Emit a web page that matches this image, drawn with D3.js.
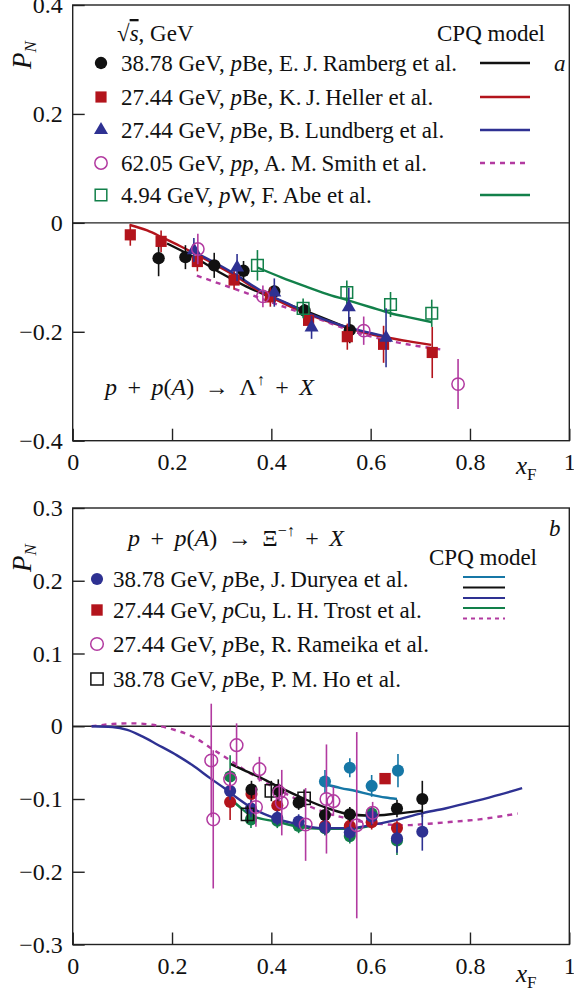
<!DOCTYPE html>
<html>
<head>
<meta charset="utf-8">
<script src="https://cdn.jsdelivr.net/npm/d3@7"></script>
<style>
  body { margin: 0; background: #fff; }
  svg { display: block; }
  text { font-family: "Liberation Serif", "DejaVu Serif", serif; fill: #111; }
</style>
</head>
<body>
<svg id="chart"></svg>
<script>
const W = 574, H = 993;

// ---- panel a : Lambda polarization, [xF, PN, error]
const lamRamberg = [[0.173,-0.065,0.033],[0.227,-0.063,0.022],[0.285,-0.078,0.023],[0.344,-0.088,0.018],[0.406,-0.126,0.012],[0.467,-0.161,0.012],[0.558,-0.197,0.024]];
const lamHeller = [[0.116,-0.022,0.02],[0.178,-0.034,0.02],[0.251,-0.071,0.018],[0.325,-0.105,0.018],[0.398,-0.136,0.018],[0.475,-0.179,0.014],[0.553,-0.209,0.024],[0.626,-0.223,0.034],[0.724,-0.238,0.047]];
const lamLundberg = [[0.244,-0.050,0.022],[0.331,-0.082,0.025],[0.406,-0.128,0.026],[0.481,-0.192,0.021],[0.556,-0.155,0.036],[0.631,-0.211,0.054]];
const lamSmith = [[0.252,-0.048,0.028],[0.383,-0.135,0.02],[0.586,-0.198,0.026],[0.776,-0.296,0.046]];
const lamAbe = [[0.372,-0.078,0.028],[0.464,-0.157,0.018],[0.552,-0.128,0.022],[0.640,-0.150,0.023],[0.723,-0.166,0.025]];

// CPQ model curves, panel a
const lamCurveRamberg = [[0.19,-0.038],[0.25,-0.066],[0.30,-0.093],[0.35,-0.117],[0.40,-0.137],[0.45,-0.155],[0.50,-0.173],[0.56,-0.195]];
const lamCurveHeller = [[0.115,-0.004],[0.15,-0.014],[0.183,-0.028],[0.215,-0.042],[0.251,-0.059],[0.29,-0.078],[0.325,-0.096],[0.379,-0.127],[0.43,-0.150],[0.48,-0.170],[0.53,-0.186],[0.58,-0.200],[0.63,-0.210],[0.68,-0.218],[0.722,-0.224]];
const lamCurveLundberg = [[0.241,-0.052],[0.28,-0.070],[0.325,-0.093],[0.38,-0.125],[0.43,-0.147],[0.48,-0.168],[0.53,-0.185],[0.58,-0.198],[0.633,-0.209]];
const lamCurveSmith = [[0.25,-0.097],[0.30,-0.113],[0.35,-0.129],[0.40,-0.146],[0.45,-0.162],[0.50,-0.178],[0.56,-0.198],[0.62,-0.213],[0.68,-0.224],[0.745,-0.233]];
const lamCurveAbe = [[0.372,-0.082],[0.42,-0.100],[0.47,-0.117],[0.52,-0.133],[0.55,-0.141],[0.60,-0.155],[0.64,-0.166],[0.68,-0.174],[0.722,-0.182]];

const lamLegend = [
  "38.78 GeV, *p*Be, E.\u2009J.\u2009Ramberg et al.",
  "27.44 GeV, *p*Be, K.\u2009J.\u2009Heller et al.",
  "27.44 GeV, *p*Be, B.\u2009Lundberg et al.",
  "62.05 GeV, *pp*, A.\u2009M.\u2009Smith et al.",
  "4.94 GeV, *p*W, F.\u2009Abe et al."
];

// ---- panel b : Xi- polarization
const xiDuryea = [[0.317,-0.089,0.012],[0.359,-0.113,0.012],[0.412,-0.126,0.01],[0.455,-0.131,0.01],[0.508,-0.139,0.01],[0.558,-0.146,0.012],[0.602,-0.124,0.012],[0.653,-0.154,0.02],[0.704,-0.145,0.026]];
const xiTrost = [[0.629,-0.072,0]];
const xiRameika = [[0.279,-0.047,0.078],[0.283,-0.128,0.095],[0.317,-0.073,0.015],[0.330,-0.026,0.03],[0.369,-0.111,0.027],[0.376,-0.059,0.017],[0.416,-0.091,0.012],[0.421,-0.105,0.045],[0.469,-0.135,0.05],[0.511,-0.100,0.075],[0.525,-0.103,0.02],[0.572,-0.136,0.128],[0.604,-0.119,0.015]];
const xiHo = [[0.352,-0.121,0.012],[0.400,-0.089,0.014],[0.466,-0.099,0.012]];
const xiBlack = [[0.360,-0.087,0.012],[0.414,-0.088,0.015],[0.455,-0.105,0.01],[0.508,-0.122,0.01],[0.558,-0.121,0.01],[0.653,-0.113,0.012],[0.704,-0.100,0.025]];
const xiTeal = [[0.508,-0.076,0.016],[0.558,-0.057,0.013],[0.602,-0.082,0.015],[0.655,-0.061,0.023]];
const xiGreen = [[0.317,-0.069,0.029],[0.359,-0.128,0.012],[0.412,-0.130,0.01],[0.455,-0.137,0.01],[0.508,-0.140,0.01],[0.558,-0.151,0.01],[0.602,-0.120,0.01],[0.653,-0.157,0.02]];
const xiRed = [[0.317,-0.104,0.025],[0.360,-0.093,0.012],[0.412,-0.109,0.01],[0.508,-0.137,0.01],[0.558,-0.137,0.01],[0.602,-0.132,0.01],[0.653,-0.140,0.01]];

const xiCurveTeal = [[0.505,-0.079],[0.54,-0.085],[0.57,-0.089],[0.60,-0.094],[0.63,-0.098],[0.653,-0.100]];
const xiCurveBlack = [[0.318,-0.052],[0.35,-0.062],[0.373,-0.069],[0.414,-0.083],[0.467,-0.100],[0.51,-0.112],[0.55,-0.120],[0.60,-0.123],[0.653,-0.120],[0.704,-0.116]];
const xiCurveNavy = [[0.038,0],[0.08,-0.001],[0.11,-0.005],[0.14,-0.014],[0.17,-0.025],[0.21,-0.040],[0.24,-0.053],[0.278,-0.072],[0.305,-0.085],[0.33,-0.098],[0.36,-0.112],[0.41,-0.127],[0.455,-0.135],[0.50,-0.140],[0.56,-0.140],[0.60,-0.136],[0.65,-0.129],[0.70,-0.120],[0.75,-0.113],[0.81,-0.103],[0.86,-0.094],[0.905,-0.085]];
const xiCurveGreen = [[0.318,-0.100],[0.34,-0.113],[0.36,-0.123],[0.41,-0.131],[0.455,-0.138],[0.50,-0.141],[0.56,-0.141],[0.60,-0.137]];
const xiCurveDashed = [[0.038,0],[0.08,0.003],[0.12,0.004],[0.16,0.002],[0.20,-0.004],[0.244,-0.015],[0.285,-0.033],[0.32,-0.048],[0.346,-0.060],[0.38,-0.074],[0.413,-0.087],[0.45,-0.100],[0.48,-0.111],[0.52,-0.121],[0.548,-0.126],[0.58,-0.131],[0.616,-0.134],[0.67,-0.136],[0.717,-0.134],[0.77,-0.131],[0.819,-0.128],[0.86,-0.124],[0.896,-0.120]];

const xiLegend = [
  "38.78 GeV, *p*Be, J.\u2009Duryea et al.",
  "27.44 GeV, *p*Cu, L.\u2009H.\u2009Trost et al.",
  "27.44 GeV, *p*Be, R.\u2009Rameika et al.",
  "38.78 GeV, *p*Be, P.\u2009M.\u2009Ho et al."
];

const xTicks = [0, 0.2, 0.4, 0.6, 0.8, 1];
const yTicksA = [-0.4, -0.2, 0, 0.2, 0.4];
const yTicksB = [-0.3, -0.2, -0.1, 0, 0.1, 0.2, 0.3];

const C = {
  black: "#111111", red: "#b3141c", navy: "#2e3192", magenta: "#b23aa0",
  green: "#12804a", teal: "#1677a6"
};

const svg = d3.select("#chart").attr("width", W).attr("height", H);

const x = d3.scaleLinear([0, 1], [72.7, 569.3]);
const ya = d3.scaleLinear([-0.4, 0.4], [440.7, 5]);
const yb = d3.scaleLinear([-0.3, 0.3], [944.5, 508]);

const fmt = d => d === 0 ? "0" : d3.format("")(d).replace("-", "\u2212");

function rich(sel, str) {
  str.split("*").forEach((s, i) => {
    sel.append("tspan").attr("font-style", i % 2 ? "italic" : null).text(s);
  });
}

function frame(y, ticksY, xfY) {
  const g = svg.append("g");
  g.append("g")
      .attr("transform", `translate(0,${y.range()[0]})`)
      .call(d3.axisBottom(x).tickValues(xTicks).tickSize(-12).tickPadding(12).tickFormat(fmt))
      .call(a => a.select(".domain").remove())
      .call(a => a.selectAll("text").attr("font-size", 24).attr("font-family", null));
  g.append("g")
      .attr("transform", `translate(${x(0)},0)`)
      .call(d3.axisLeft(y).tickValues(ticksY).tickSize(-12).tickPadding(10).tickFormat(fmt))
      .call(a => a.select(".domain").remove())
      .call(a => a.selectAll("text").attr("font-size", 24).attr("font-family", null));
  g.selectAll(".tick line").attr("stroke", "#222").attr("stroke-width", 1.4);

  g.append("rect")
      .attr("x", x(0)).attr("y", y.range()[1])
      .attr("width", x(1) - x(0)).attr("height", y.range()[0] - y.range()[1])
      .attr("fill", "none").attr("stroke", "#222").attr("stroke-width", 1.4);
  g.append("line")
      .attr("x1", x(0)).attr("x2", x(1)).attr("y1", y(0)).attr("y2", y(0))
      .attr("stroke", "#222").attr("stroke-width", 1.4);

  // axis titles
  const pn = g.append("text")
      .attr("transform", `translate(31,${(y.range()[1] + 50)}) rotate(-90)`)
      .attr("text-anchor", "middle").attr("font-size", 27);
  pn.append("tspan").attr("font-style", "italic").text("P");
  pn.append("tspan").attr("font-style", "italic").attr("font-size", 17).attr("dy", 5).text("N");

  const xf = g.append("text").attr("x", 516).attr("y", xfY).attr("font-size", 25);
  xf.append("tspan").attr("font-style", "italic").text("x");
  xf.append("tspan").attr("font-size", 17).attr("dy", 6).text("F");
  return g;
}

const line = y => d3.line().x(d => x(d[0])).y(d => y(d[1])).curve(d3.curveMonotoneX);

function curve(y, data, color, dashed) {
  svg.append("path").datum(data)
      .attr("d", line(y))
      .attr("fill", "none").attr("stroke", color).attr("stroke-width", 2.4)
      .attr("stroke-dasharray", dashed ? "5,5" : null);
}

function sym(type, size) { return d3.symbol().type(type).size(size)(); }

function points(y, data, color, type, size, open) {
  const g = svg.append("g");
  g.selectAll("line").data(data.filter(d => d[2] > 0)).join("line")
      .attr("x1", d => x(d[0])).attr("x2", d => x(d[0]))
      .attr("y1", d => y(d[1] - d[2])).attr("y2", d => y(d[1] + d[2]))
      .attr("stroke", color).attr("stroke-width", 1.6);
  g.selectAll("path").data(data).join("path")
      .attr("transform", d => `translate(${x(d[0])},${y(d[1])})`)
      .attr("d", sym(type, size))
      .attr("fill", open ? "#fff" : color).attr("fill-opacity", open ? 0 : 1)
      .attr("stroke", color).attr("stroke-width", open ? 1.5 : 0);
}

function reaction(parent, xx, yy, particle, sup) {
  const t = parent.append("text").attr("x", xx).attr("y", yy).attr("dy", "0.35em")
      .attr("font-size", 24).attr("word-spacing", 4.5);
  t.append("tspan").attr("font-style", "italic").text("p");
  t.append("tspan").text(" + ");
  t.append("tspan").attr("font-style", "italic").text("p");
  t.append("tspan").text("(");
  t.append("tspan").attr("font-style", "italic").text("A");
  t.append("tspan").text(") \u2192 " + particle);
  t.append("tspan").attr("font-size", 16).attr("dy", -10).text(sup);
  t.append("tspan").attr("dy", 10).text(" + ");
  t.append("tspan").attr("font-style", "italic").text("X");
}

// ======== panel a
frame(ya, yTicksA, 474);

curve(ya, lamCurveRamberg, C.black);
curve(ya, lamCurveHeller, C.red);
curve(ya, lamCurveAbe, C.green);
curve(ya, lamCurveSmith, C.magenta, true);
curve(ya, lamCurveLundberg, C.navy);

points(ya, lamRamberg, C.black, d3.symbolCircle, 120);
points(ya, lamHeller, C.red, d3.symbolSquare, 125);
points(ya, lamAbe, C.green, d3.symbolSquare, 135, true);
points(ya, lamLundberg, C.navy, d3.symbolTriangle, 85);
points(ya, lamSmith, C.magenta, d3.symbolCircle, 120, true);

// legend a
const legA = svg.append("g").attr("font-size", 23);
const sq = legA.append("text").attr("x", 117).attr("y", 41);
sq.append("tspan").text("\u221A");
sq.append("tspan").attr("font-style", "italic").style("text-decoration", "overline").text("s");
sq.append("tspan").text(", GeV");
legA.append("text").attr("x", 545).attr("y", 41).attr("text-anchor", "end").text("CPQ model");
legA.append("text").attr("x", 554).attr("y", 63).attr("dy", "0.35em").attr("font-style", "italic").text("a");

const legARows = [63, 97, 130, 163, 195];
const legAStyle = [
  [C.black, d3.symbolCircle, 120, false, false],
  [C.red, d3.symbolSquare, 125, false, false],
  [C.navy, d3.symbolTriangle, 85, false, false],
  [C.magenta, d3.symbolCircle, 120, true, true],
  [C.green, d3.symbolSquare, 135, true, false]
];
lamLegend.forEach((s, i) => {
  const [col, type, size, open, dashed] = legAStyle[i];
  const yy = legARows[i];
  legA.append("path").attr("transform", `translate(101,${yy})`).attr("d", sym(type, size))
      .attr("fill", open ? "none" : col).attr("stroke", col).attr("stroke-width", open ? 1.5 : 0);
  rich(legA.append("text").attr("x", 121).attr("y", yy).attr("dy", "0.35em"), s);
  legA.append("line").attr("x1", 480).attr("x2", 530).attr("y1", yy).attr("y2", yy)
      .attr("stroke", col).attr("stroke-width", 2.4).attr("stroke-dasharray", dashed ? "5,5" : null);
});

reaction(svg, 105, 387, "\u039B", "\u2191");

// ======== panel b
frame(yb, yTicksB, 982);

curve(yb, xiCurveDashed, C.magenta, true);
curve(yb, xiCurveTeal, C.teal);
curve(yb, xiCurveBlack, C.black);
curve(yb, xiCurveGreen, C.green);
curve(yb, xiCurveNavy, C.navy);

points(yb, xiGreen, C.green, d3.symbolCircle, 115);
points(yb, xiRed, C.red, d3.symbolCircle, 115);
points(yb, xiBlack, C.black, d3.symbolCircle, 115);
points(yb, xiDuryea, C.navy, d3.symbolCircle, 115);
points(yb, xiTeal, C.teal, d3.symbolCircle, 115);
points(yb, xiTrost, C.red, d3.symbolSquare, 130);
points(yb, xiHo, C.black, d3.symbolSquare, 150, true);
points(yb, xiRameika, C.magenta, d3.symbolCircle, 125, true);

// legend b
const legB = svg.append("g").attr("font-size", 23);
reaction(legB, 128, 538, "\u039E", "\u2212\u2191");

legB.append("text").attr("x", 549).attr("y", 528).attr("dy", "0.35em").attr("font-style", "italic").text("b");
legB.append("text").attr("x", 537).attr("y", 557).attr("dy", "0.35em").attr("text-anchor", "end").text("CPQ model");

const legBRows = [579, 610, 644, 679];
const legBStyle = [
  [C.navy, d3.symbolCircle, 115, false],
  [C.red, d3.symbolSquare, 130, false],
  [C.magenta, d3.symbolCircle, 125, true],
  [C.black, d3.symbolSquare, 150, true]
];
xiLegend.forEach((s, i) => {
  const [col, type, size, open] = legBStyle[i];
  const yy = legBRows[i];
  legB.append("path").attr("transform", `translate(97,${yy})`).attr("d", sym(type, size))
      .attr("fill", open ? "none" : col).attr("stroke", col).attr("stroke-width", open ? 1.5 : 0);
  rich(legB.append("text").attr("x", 113).attr("y", yy).attr("dy", "0.35em"), s);
});

const legBLines = [[577, C.teal, false], [587.5, C.black, false], [598, C.navy, false], [608, C.green, false], [618.5, C.magenta, true]];
legBLines.forEach(([yy, col, dashed]) => {
  legB.append("line").attr("x1", 463).attr("x2", 505).attr("y1", yy).attr("y2", yy)
      .attr("stroke", col).attr("stroke-width", 2.2).attr("stroke-dasharray", dashed ? "4,4" : null);
});
</script>
</body>
</html>
